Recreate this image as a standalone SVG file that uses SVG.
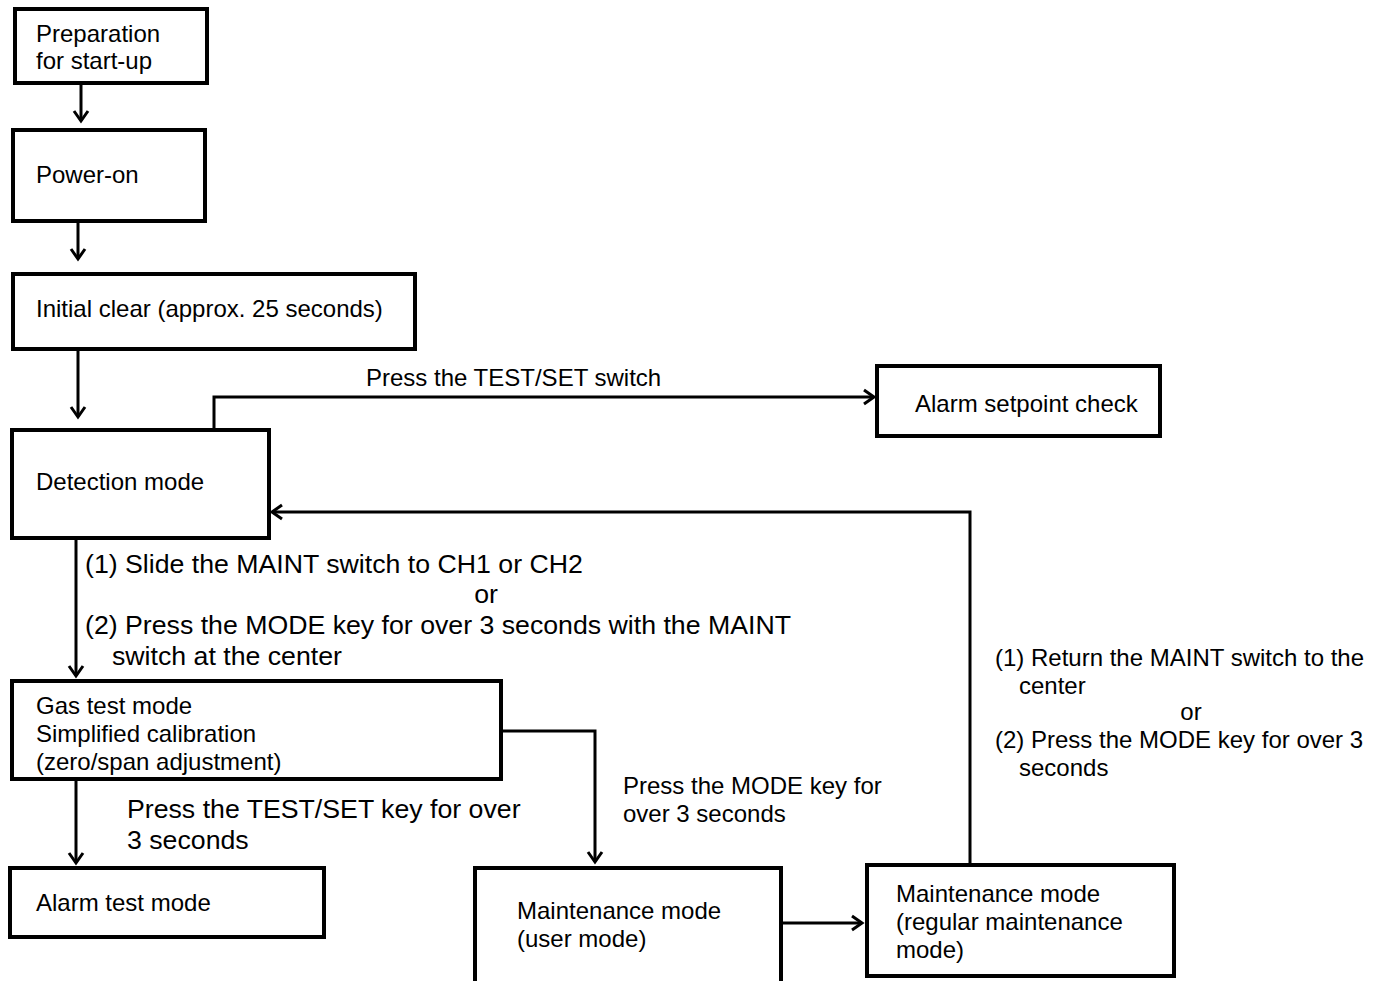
<svg xmlns="http://www.w3.org/2000/svg" width="1381" height="981" viewBox="0 0 1381 981">
<style>
.box{fill:#fff;stroke:#000;stroke-width:4}
.t{font-family:"Liberation Sans",Arial,sans-serif;font-size:24px;fill:#000}
.lb{font-family:"Liberation Sans",Arial,sans-serif;font-size:24px;fill:#000}
.lg{font-family:"Liberation Sans",Arial,sans-serif;font-size:26.7px;fill:#000}
.c{fill:none;stroke:#000;stroke-width:3}
</style>
<defs>
<marker id="arr" markerUnits="userSpaceOnUse" markerWidth="20" markerHeight="20" viewBox="-14 -10 20 20" refX="0" refY="0" orient="auto">
<path d="M-10,-7 L0,0 L-10,7" fill="none" stroke="#000" stroke-width="3"/>
</marker>
</defs>
<rect width="1381" height="981" fill="#fff"/>
<g id="connectors">
<path class="c" d="M81,85 V121" marker-end="url(#arr)"/>
<path class="c" d="M78,223 V259" marker-end="url(#arr)"/>
<path class="c" d="M78,351 V417" marker-end="url(#arr)"/>
<path class="c" d="M214,428 V397 H874" marker-end="url(#arr)"/>
<path class="c" d="M970,863 V512 H272" marker-end="url(#arr)"/>
<path class="c" d="M76,540 V676" marker-end="url(#arr)"/>
<path class="c" d="M503,731 H595 V862" marker-end="url(#arr)"/>
<path class="c" d="M76,781 V863" marker-end="url(#arr)"/>
<path class="c" d="M783,923 H862" marker-end="url(#arr)"/>
<text class="lb" x="366" y="386">Press the TEST/SET switch</text>
<text class="lg" x="85" y="573">(1) Slide the MAINT switch to CH1 or CH2</text>
<text class="lg" x="486" y="603" text-anchor="middle">or</text>
<text class="lg" x="85" y="634">(2) Press the MODE key for over 3 seconds with the MAINT</text>
<text class="lg" x="112" y="665">switch at the center</text>
<text class="lg" x="127" y="818">Press the TEST/SET key for over</text>
<text class="lg" x="127" y="849">3 seconds</text>
<text class="lb" x="623" y="794">Press the MODE key for</text>
<text class="lb" x="623" y="822">over 3 seconds</text>
<text class="lb" x="995" y="666">(1) Return the MAINT switch to the</text>
<text class="lb" x="1019" y="694">center</text>
<text class="lb" x="1191" y="720" text-anchor="middle">or</text>
<text class="lb" x="995" y="748">(2) Press the MODE key for over 3</text>
<text class="lb" x="1019" y="776">seconds</text>
</g>
<g id="prep">
<rect class="box" x="15" y="9" width="192" height="74"/>
<text class="t" x="36" y="42">Preparation</text>
<text class="t" x="36" y="69">for start-up</text>
</g>
<g id="power">
<rect class="box" x="13" y="130" width="192" height="91"/>
<text class="t" x="36" y="183">Power-on</text>
</g>
<g id="initial">
<rect class="box" x="13" y="274" width="402" height="75"/>
<text class="t" x="36" y="317">Initial clear (approx. 25 seconds)</text>
</g>
<g id="detection">
<rect class="box" x="12" y="430" width="257" height="108"/>
<text class="t" x="36" y="490">Detection mode</text>
</g>
<g id="alarmcheck">
<rect class="box" x="877" y="366" width="283" height="70"/>
<text class="t" x="915" y="412">Alarm setpoint check</text>
</g>
<g id="gastest">
<rect class="box" x="12" y="681" width="489" height="98"/>
<text class="t" x="36" y="714">Gas test mode</text>
<text class="t" x="36" y="742">Simplified calibration</text>
<text class="t" x="36" y="770">(zero/span adjustment)</text>
</g>
<g id="alarmtest">
<rect class="box" x="10" y="868" width="314" height="69"/>
<text class="t" x="36" y="911">Alarm test mode</text>
</g>
<g id="usermode">
<rect class="box" x="475" y="868" width="306" height="130"/>
<text class="t" x="517" y="919">Maintenance mode</text>
<text class="t" x="517" y="947">(user mode)</text>
</g>
<g id="regularmode">
<rect class="box" x="867" y="865" width="307" height="111"/>
<text class="t" x="896" y="902">Maintenance mode</text>
<text class="t" x="896" y="930">(regular maintenance</text>
<text class="t" x="896" y="958">mode)</text>
</g>
</svg>
